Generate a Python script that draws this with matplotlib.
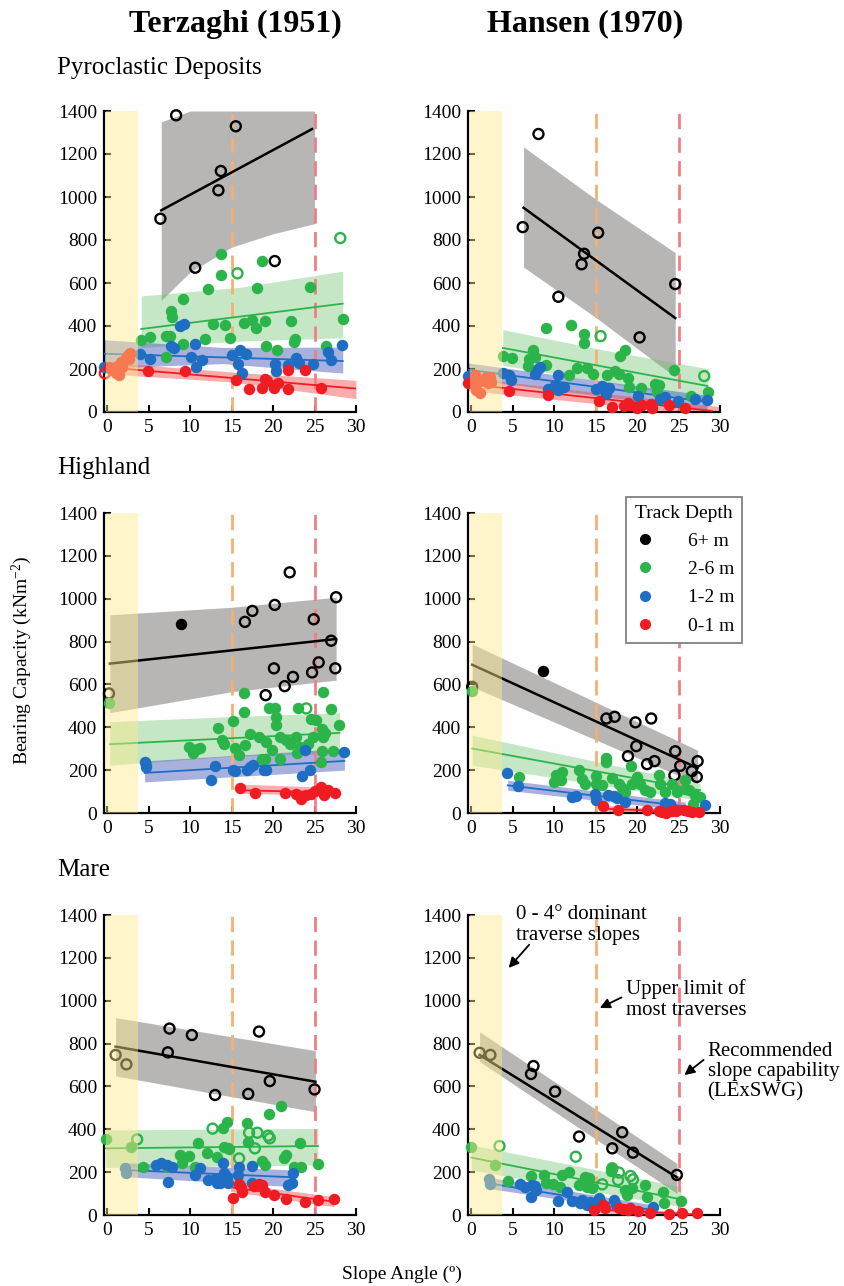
import matplotlib.pyplot as plt
from matplotlib.lines import Line2D

# general look: Times-like serif everywhere
plt.rcParams["font.family"] = ["Liberation Serif", "DejaVu Serif"]
plt.rcParams["mathtext.fontset"] = "custom"
plt.rcParams["mathtext.rm"] = "Liberation Serif"
plt.rcParams["mathtext.it"] = "Liberation Serif:italic"
plt.rcParams["lines.scale_dashes"] = False

# ---------------- data: (slope angle, bearing capacity) ----------------
# Terzaghi - Pyroclastic Deposits
tp_black_open = [(8.3, 1380), (15.5, 1329), (13.7, 1121), (13.4, 1031), (6.4, 899), (10.6, 671), (20.2, 702)]
tp_black_fit = [(6.5, 938), (24.7, 1316)]
tp_black_band = [(6.5, 519, 1349), (10, 651, 1400), (15, 767, 1400), (20, 829, 1400), (25, 876, 1400)]
tp_green = [(4.1, 333), (5.1, 349), (7.1, 256), (7.1, 352), (7.6, 352), (7.7, 470), (7.8, 442), (9.1, 527),
            (9.1, 315), (11.8, 341), (12.2, 571), (12.8, 411), (13.7, 736), (13.7, 639), (14.2, 403), (14.8, 344),
            (16.5, 415), (17.4, 426), (17.9, 392), (18.0, 577), (18.7, 702), (19.0, 422), (19.1, 307), (20.5, 287),
            (22.2, 423), (22.5, 326), (22.7, 341), (24.4, 581), (26.4, 307), (28.4, 434)]
tp_green_open = [(15.7, 645), (28.1, 809)]
tp_green_fit = [(4.1, 386), (28.4, 504)]
tp_green_band = [(4.1, 300, 540), (16, 330, 580), (28.4, 345, 655)]
tp_blue = [(-0.4, 209), (4.0, 271), (5.1, 248), (7.7, 305), (8.0, 298), (8.8, 398), (9.3, 411), (10.1, 256),
           (10.6, 318), (10.7, 209), (11.4, 243), (15.1, 267), (15.8, 222), (16.0, 287), (16.3, 181), (16.7, 271),
           (20.2, 222), (20.3, 191), (21.8, 217), (22.8, 253), (23.1, 228), (24.8, 225), (26.6, 279), (27.0, 243),
           (28.3, 310)]
tp_blue_fit = [(-0.4, 271), (28.4, 237)]
tp_blue_band = [(-0.4, 205, 336), (14, 225, 300), (28.4, 181, 302)]
tp_red = [(0.2, 211), (0.6, 195), (1.0, 180), (1.2, 214), (1.4, 170), (1.6, 234), (1.8, 211), (2.2, 250),
          (2.5, 265), (2.7, 273), (2.6, 245), (4.9, 189), (9.4, 189), (15.5, 147), (17.1, 105), (18.6, 112),
          (19.0, 152), (19.3, 143), (20.1, 112), (20.6, 135), (21.8, 109), (21.8, 194), (23.9, 197), (25.8, 113)]
tp_red_open = [(-0.3, 180)]
tp_red_fit = [(-0.4, 209), (30, 109)]
tp_red_band = [(-0.4, 178, 233), (15, 140, 186), (30, 62, 147)]

# Hansen - Pyroclastic Deposits
hp_black_open = [(8.1, 1293), (6.2, 860), (15.3, 834), (13.6, 736), (13.3, 687), (10.5, 536), (20.3, 347), (24.6, 595)]
hp_black_fit = [(6.3, 950), (24.6, 437)]
hp_black_band = [(6.3, 674, 1233), (15, 440, 990), (24.6, 163, 741)]
hp_green = [(3.8, 260), (4.9, 251), (6.8, 214), (7.0, 248), (7.5, 287), (7.7, 256), (9.0, 392), (9.0, 217),
            (11.8, 171), (12.0, 406), (12.7, 206), (13.6, 364), (13.6, 322), (13.9, 206), (14.7, 178), (16.4, 171),
            (17.3, 189), (17.8, 178), (17.9, 260), (18.6, 287), (18.9, 160), (19.0, 116), (20.5, 113), (22.2, 132),
            (22.6, 127), (22.4, 93), (24.4, 194), (26.5, 74), (28.5, 93)]
hp_green_open = [(15.6, 353), (28.1, 167)]
hp_green_fit = [(3.8, 298), (28.5, 121)]
hp_green_band = [(3.8, 217, 383), (16, 140, 288), (28.5, 47, 202)]
hp_blue = [(-0.4, 166), (3.8, 181), (4.6, 171), (4.8, 147), (7.7, 178), (8.1, 202), (8.3, 209), (9.3, 109),
           (10.4, 174), (10.1, 124), (10.5, 101), (11.2, 116), (15.1, 109), (15.8, 121), (16.1, 104), (16.3, 85),
           (16.6, 112), (20.1, 73), (22.8, 62), (23.4, 70), (24.9, 51), (27.0, 62), (28.4, 57)]
hp_blue_fit = [(-0.4, 197), (28.4, 47)]
hp_blue_band = [(-0.4, 155, 228), (28.4, 8, 78)]
hp_red = [(-0.4, 133), (0.2, 133), (0.4, 172), (0.8, 141), (1.6, 157), (2.2, 164), (2.4, 141), (0.6, 102),
          (1.0, 87), (2.0, 133), (4.6, 96), (9.2, 81), (15.4, 50), (17.0, 23), (18.4, 26), (18.9, 43), (19.2, 31),
          (20.0, 20), (20.6, 34), (21.7, 39), (21.8, 20), (23.9, 34), (25.8, 19)]
hp_red_fit = [(-0.4, 130), (29, 5)]
hp_red_band = [(-0.4, 100, 160), (30, -20, 25)]

# Terzaghi - Highland
th_black_open = [(0.2, 558), (16.6, 892), (17.5, 943), (20.2, 971), (22.0, 1123), (20.1, 675), (19.1, 550),
                 (21.4, 592), (22.4, 635), (24.7, 656), (24.9, 904), (25.5, 703), (27.0, 804), (27.6, 1007),
                 (27.5, 675)]
th_black = [(8.9, 884)]
th_black_fit = [(0.3, 697), (27.6, 812)]
th_black_band = [(0.3, 468, 925), (15, 566, 960), (27.6, 620, 1007)]
th_green = [(0.2, 514), (4.7, 231), (9.9, 306), (10.3, 278), (10.8, 301), (11.2, 304), (13.3, 399), (13.8, 340),
            (14.1, 324), (15.2, 431), (15.4, 304), (15.9, 270), (16.5, 561), (16.5, 472), (16.6, 316), (17.2, 368),
            (18.3, 355), (18.6, 254), (19.0, 254), (19.2, 332), (19.5, 488), (20.2, 488), (19.9, 296), (20.3, 446),
            (20.4, 410), (20.8, 355), (20.8, 254), (21.5, 340), (22.0, 321), (22.8, 355), (23.0, 488), (22.9, 278),
            (23.2, 309), (24.2, 321), (24.6, 441), (25.2, 433), (24.8, 355), (25.9, 390), (26.0, 566), (26.0, 355),
            (25.8, 239), (26.2, 374), (25.9, 290), (27.2, 290), (27.0, 485), (28.0, 410)]
th_green_open = [(24.0, 488)]
th_green_fit = [(0.3, 321), (28.0, 374)]
th_green_band = [(0.3, 223, 426), (15, 265, 450), (28.0, 278, 468)]
th_blue = [(4.5, 238), (4.7, 215), (12.5, 156), (13.0, 218), (15.2, 200), (15.4, 195), (16.8, 203), (17.2, 215),
           (17.6, 223), (18.9, 203), (19.2, 203), (23.9, 293), (23.5, 173), (24.4, 203), (28.6, 285)]
th_blue_fit = [(4.5, 187), (28.6, 243)]
th_blue_band = [(4.5, 145, 243), (28.6, 200, 301)]
th_red = [(16.0, 118), (17.8, 95), (21.4, 95), (22.8, 90), (23.4, 67), (24.0, 83), (24.6, 90), (25.1, 103),
          (25.8, 122), (26.1, 83), (26.6, 109), (27.5, 94)]
th_red_fit = [(16, 106), (27.6, 96)]
th_red_band = [(16, 92, 135), (27.6, 82, 118)]

# Hansen - Highland
hh_black_open = [(0.1, 589), (16.3, 441), (17.3, 449), (19.8, 423), (19.9, 312), (21.7, 441), (18.9, 265),
                 (21.2, 228), (22.1, 242), (24.6, 288), (24.5, 176), (25.2, 220), (26.6, 195), (27.3, 242),
                 (27.2, 168)]
hh_black = [(8.7, 663)]
hh_black_fit = [(0.1, 692), (27.3, 210)]
hh_black_band = [(0.1, 589, 789), (27.3, 137, 293)]
hh_green = [(0.1, 569), (5.7, 168), (10.0, 145), (10.2, 176), (10.8, 156), (11.0, 192), (13.0, 200), (13.4, 161),
            (13.7, 137), (15.0, 137), (15.1, 173), (16.2, 239), (16.3, 259), (15.8, 129), (17.0, 165), (17.8, 137),
            (18.2, 117), (18.6, 98), (19.3, 218), (19.4, 137), (20.0, 168), (20.3, 137), (21.0, 106), (21.5, 98),
            (22.7, 176), (22.8, 137), (23.4, 98), (24.2, 137), (24.8, 98), (25.8, 153), (25.8, 114), (26.3, 106),
            (27.0, 83), (27.6, 75), (26.8, 44)]
hh_green_fit = [(0.1, 301), (27.6, 106)]
hh_green_band = [(0.1, 223, 363), (27.6, 59, 137)]
hh_blue = [(4.3, 187), (5.6, 126), (12.2, 75), (12.6, 80), (14.9, 87), (15.0, 62), (16.5, 83), (17.2, 78),
           (17.6, 72), (18.6, 51), (23.4, 47), (24.0, 44), (28.2, 39)]
hh_blue_fit = [(4.4, 129), (25.8, 31)]
hh_blue_band = [(4.4, 106, 153), (25.8, 12, 51)]
hh_red = [(15.9, 31), (17.7, 12), (21.2, 12), (22.6, 9), (23.0, 5), (23.5, 2), (24.2, 8), (24.7, 9), (25.7, 16),
          (26.2, 9), (26.6, 5), (27.5, 5)]
hh_red_fit = [(15.9, 20), (27.5, 2)]
hh_red_band = [(15.9, 8, 35), (27.5, -10, 12)]

# Terzaghi - Mare
tm_black_open = [(1.0, 747), (2.3, 703), (7.5, 870), (7.3, 759), (10.2, 840), (13.0, 560), (17.0, 565),
                 (18.3, 856), (19.6, 625), (25.0, 586)]
tm_black_fit = [(1.0, 786), (25.1, 622)]
tm_black_band = [(1.0, 649, 921), (25.1, 482, 767)]
tm_green = [(-0.2, 355), (2.9, 316), (4.3, 222), (7.2, 226), (8.8, 280), (9.0, 244), (9.8, 275), (10.6, 226),
            (10.9, 338), (12.0, 291), (13.2, 272), (13.9, 408), (14.1, 319), (14.4, 436), (14.5, 311), (14.7, 306),
            (16.8, 428), (17.0, 342), (18.7, 254), (19.0, 233), (19.5, 471), (21.0, 509), (21.3, 267), (21.5, 280),
            (22.5, 226), (23.2, 338), (23.4, 226), (25.4, 236)]
tm_green_open = [(3.6, 353), (12.7, 403), (15.9, 264), (17.1, 384), (18.1, 384), (19.4, 370), (19.6, 358),
                 (17.8, 311)]
tm_green_fit = [(-0.2, 311), (25.4, 322)]
tm_green_band = [(-0.2, 222, 397), (25.4, 233, 404)]
tm_blue = [(2.1, 218), (2.3, 198), (5.9, 233), (6.5, 244), (7.2, 233), (7.8, 226), (7.3, 156), (10.6, 187),
           (11.2, 218), (12.1, 163), (13.0, 166), (13.2, 148), (13.6, 151), (13.9, 244), (14.1, 194), (14.4, 176),
           (14.6, 151), (15.8, 187), (15.9, 226), (17.5, 229), (17.5, 151), (21.8, 140), (22.3, 151), (22.4, 194)]
tm_blue_fit = [(2.1, 210), (22.4, 176)]
tm_blue_band = [(2.1, 179, 244), (22.4, 132, 210)]
tm_red = [(15.2, 78), (15.9, 145), (16.1, 129), (16.3, 109), (17.7, 135), (18.3, 145), (18.6, 140), (19.0, 109),
          (20.1, 93), (21.6, 73), (23.9, 62), (25.4, 70), (27.3, 73)]
tm_red_fit = [(15.2, 128), (27.3, 62)]
tm_red_band = [(15.2, 109, 148), (27.3, 39, 86)]

# Hansen - Mare
hm_black_open = [(1.0, 757), (2.3, 747), (7.5, 695), (7.2, 658), (10.1, 576), (13.0, 366), (17.0, 311),
                 (18.2, 386), (19.5, 291), (24.8, 187)]
hm_black_fit = [(1.0, 747), (24.8, 176)]
hm_black_band = [(1.0, 716, 855), (24.8, 101, 241)]
hm_green = [(0, 316), (2.9, 233), (4.4, 160), (7.2, 182), (8.8, 187), (9.0, 148), (9.9, 143), (10.7, 132),
            (10.9, 187), (11.8, 202), (13.0, 140), (13.7, 179), (13.9, 132), (14.2, 174), (14.5, 124), (16.8, 205),
            (17.0, 213), (18.6, 117), (18.8, 93), (19.4, 124), (20.9, 140), (21.2, 86), (23.1, 109), (23.3, 54),
            (25.3, 65)]
hm_green_open = [(3.4, 322), (12.6, 272), (15.8, 143), (17.0, 218), (17.8, 198), (17.7, 163), (19.2, 182),
                 (19.5, 166)]
hm_green_fit = [(0, 268), (25.3, 73)]
hm_green_band = [(0, 210, 327), (25.3, 39, 132)]
hm_blue = [(2.1, 166), (2.3, 145), (5.9, 145), (6.5, 132), (7.3, 140), (7.7, 135), (7.2, 86), (7.8, 117),
           (10.4, 67), (11.5, 109), (12.2, 67), (13.1, 54), (13.4, 70), (13.9, 47), (14.3, 62), (14.8, 47),
           (15.4, 78), (15.7, 54), (17.2, 70), (17.4, 47), (21.9, 39)]
hm_blue_fit = [(2.1, 148), (21.9, 23)]
hm_blue_band = [(2.1, 124, 176), (21.9, 8, 47)]
hm_red = [(14.8, 23), (15.9, 47), (16.1, 31), (17.8, 34), (18.3, 26), (18.9, 23), (19.2, 31), (20.1, 20),
          (21.5, 11), (23.8, 5), (25.4, 8), (27.2, 8)]
hm_red_fit = [(14.8, 26), (27.2, 2)]
hm_red_band = [(14.8, 12, 40), (27.2, -5, 10)]

# reference lines / shaded range
dominant_slopes = (-0.1, 3.7)
upper_limit_slope = 15
recommended_slope = 25

depth_labels = ["6+ m", "2-6 m", "1-2 m", "0-1 m"]
depth_colors = ["#000000", "#2bb44a", "#1f6ec3", "#f01c24"]
band_colors = ["#8a8585", "#67c267", "#3e51b5", "#f04848"]
band_alpha = [0.6, 0.38, 0.45, 0.45]


def xs(pts):
    return [p[0] for p in pts]


def ys(pts):
    return [p[1] for p in pts]


def draw_panel(ax, groups):
    # groups: one entry per track depth -> (filled, open, fit, band)
    for i, (filled, hollow, fit, band) in enumerate(groups):
        ax.fill_between(xs(band), [b[1] for b in band], [b[2] for b in band],
                        color=band_colors[i], alpha=band_alpha[i], linewidth=0, zorder=1)
    ax.axvline(upper_limit_slope, color="#f5b074", lw=2, dashes=(11, 6), zorder=2)
    ax.axvline(recommended_slope, color="#f07e86", lw=2, dashes=(11, 6), zorder=2)
    for i, (filled, hollow, fit, band) in enumerate(groups):
        ax.plot(xs(fit), ys(fit), color=depth_colors[i], lw=1.8 if i == 0 else 1.3, zorder=3)
        if filled:
            ax.scatter(xs(filled), ys(filled), s=68, color=depth_colors[i], linewidths=0, zorder=4, clip_on=False)
        if hollow:
            ax.scatter(xs(hollow), ys(hollow), s=52, facecolors="none", edgecolors=depth_colors[i],
                       linewidths=1.7, zorder=4, clip_on=False)
    # the yellow strip sits on top, semi transparent (turns the red dots orange)
    ax.axvspan(dominant_slopes[0], dominant_slopes[1], color="#ffeb8c", alpha=0.45, lw=0, zorder=5)

    ax.set_xlim(-0.4, 30)
    ax.set_ylim(0, 1400)
    ax.set_xticks(range(0, 31, 5))
    ax.set_yticks(range(0, 1401, 200))
    for side in ["top", "right"]:
        ax.spines[side].set_visible(False)
    for side in ["left", "bottom"]:
        ax.spines[side].set_linewidth(1.6)
    ax.tick_params(direction="in", length=5, width=1.5, labelsize=14, pad=5)


fig = plt.figure(figsize=(8.44, 12.86), dpi=100)
W, H = 844.0, 1286.0


def add_axes(left_px, top_px, bottom_px):
    return fig.add_axes([left_px / W, 1 - bottom_px / H, 252 / W, (bottom_px - top_px) / H])


ax_tp = add_axes(104, 111, 412)
ax_hp = add_axes(468, 111, 412)
ax_th = add_axes(104, 513, 813)
ax_hh = add_axes(468, 513, 813)
ax_tm = add_axes(104, 915, 1215)
ax_hm = add_axes(468, 915, 1215)

draw_panel(ax_tp, [([], tp_black_open, tp_black_fit, tp_black_band),
                   (tp_green, tp_green_open, tp_green_fit, tp_green_band),
                   (tp_blue, [], tp_blue_fit, tp_blue_band),
                   (tp_red, tp_red_open, tp_red_fit, tp_red_band)])
draw_panel(ax_hp, [([], hp_black_open, hp_black_fit, hp_black_band),
                   (hp_green, hp_green_open, hp_green_fit, hp_green_band),
                   (hp_blue, [], hp_blue_fit, hp_blue_band),
                   (hp_red, [], hp_red_fit, hp_red_band)])
draw_panel(ax_th, [(th_black, th_black_open, th_black_fit, th_black_band),
                   (th_green, th_green_open, th_green_fit, th_green_band),
                   (th_blue, [], th_blue_fit, th_blue_band),
                   (th_red, [], th_red_fit, th_red_band)])
draw_panel(ax_hh, [(hh_black, hh_black_open, hh_black_fit, hh_black_band),
                   (hh_green, [], hh_green_fit, hh_green_band),
                   (hh_blue, [], hh_blue_fit, hh_blue_band),
                   (hh_red, [], hh_red_fit, hh_red_band)])
draw_panel(ax_tm, [([], tm_black_open, tm_black_fit, tm_black_band),
                   (tm_green, tm_green_open, tm_green_fit, tm_green_band),
                   (tm_blue, [], tm_blue_fit, tm_blue_band),
                   (tm_red, [], tm_red_fit, tm_red_band)])
draw_panel(ax_hm, [([], hm_black_open, hm_black_fit, hm_black_band),
                   (hm_green, hm_green_open, hm_green_fit, hm_green_band),
                   (hm_blue, [], hm_blue_fit, hm_blue_band),
                   (hm_red, [], hm_red_fit, hm_red_band)])

# column titles and row labels
fig.text(235 / W, 1 - 24 / H, "Terzaghi (1951)", ha="center", va="center", fontsize=23, fontweight="bold")
fig.text(585 / W, 1 - 24 / H, "Hansen (1970)", ha="center", va="center", fontsize=23, fontweight="bold")
fig.text(57 / W, 1 - 68 / H, "Pyroclastic Deposits", ha="left", va="center", fontsize=18)
fig.text(57 / W, 1 - 468 / H, "Highland", ha="left", va="center", fontsize=18)
fig.text(57 / W, 1 - 870 / H, "Mare", ha="left", va="center", fontsize=18)

fig.text(22 / W, 1 - 660 / H, "Bearing Capacity (kNm$^{-2}$)", rotation=90, ha="center", va="center", fontsize=14)
fig.text(402 / W, 1 - 1274 / H, "Slope Angle (º)", ha="center", va="center", fontsize=14)

# legend sits in the Hansen highland panel
handles = [Line2D([], [], marker="o", ls="none", color=c, markersize=7) for c in depth_colors]
leg = fig.legend(handles, depth_labels, title="Track Depth", loc="upper left",
                 bbox_to_anchor=(616 / W, 1 - 487 / H), bbox_transform=fig.transFigure,
                 fontsize=14, title_fontsize=14, fancybox=False, edgecolor="#808080", framealpha=1,
                 handletextpad=1.6, labelspacing=0.55, borderpad=0.4, handlelength=1.2)
leg.get_frame().set_linewidth(1.3)

# annotations in the Hansen mare panel
ax_hm.annotate("0 - 4° dominant\ntraverse slopes", xy=(4.5, 1153), xytext=(5.4, 1445),
               ha="left", va="top", fontsize=15, annotation_clip=False, linespacing=1.1,
               arrowprops=dict(arrowstyle="-|>", color="black", lw=1.3, shrinkA=0, shrinkB=0,
                               patchA=None, relpos=(0.1, 0.0)))
ax_hm.annotate("Upper limit of\nmost traverses", xy=(15.5, 966), xytext=(18.7, 1100),
               ha="left", va="top", fontsize=15, annotation_clip=False, linespacing=1.1,
               arrowprops=dict(arrowstyle="-|>", color="black", lw=1.3, shrinkA=0, shrinkB=0,
                               relpos=(-0.04, 0.55)))
ax_hm.annotate("Recommended\nslope capability\n(LExSWG)", xy=(25.7, 653), xytext=(28.5, 808),
               ha="left", va="top", fontsize=15, annotation_clip=False, linespacing=1.1,
               arrowprops=dict(arrowstyle="-|>", color="black", lw=1.3, shrinkA=0, shrinkB=0,
                               relpos=(-0.03, 0.7)))

plt.savefig("out.png", dpi=100)
